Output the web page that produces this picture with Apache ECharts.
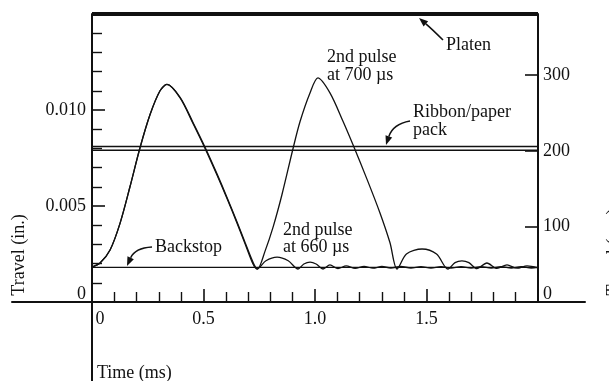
<!DOCTYPE html>
<html>
<head>
<meta charset="utf-8">
<script src="https://cdn.jsdelivr.net/npm/echarts@6/dist/echarts.min.js"></script>
<style>html,body{margin:0;padding:0;background:#fff}#c{width:609px;height:381px}</style>
</head>
<body>
<div id="c"></div>
<script>
// ---- data (time in ms, travel in inches) ----
const time660 = [0, 0.036, 0.081, 0.126, 0.170, 0.215, 0.260, 0.305, 0.336, 0.395, 0.453, 0.507, 0.561, 0.605, 0.650, 0.686, 0.722, 0.740, 0.780, 0.830, 0.880, 0.924, 0.950, 0.978, 1.005, 1.036, 1.067, 1.103, 1.140, 1.180, 1.220, 1.260, 1.300, 1.340, 1.385, 1.430, 1.475, 1.520, 1.565, 1.610, 1.655, 1.700, 1.745, 1.790, 1.835, 1.880, 1.925, 1.970, 2.0];
const travel660 = [0.00182, 0.00203, 0.00271, 0.00411, 0.00599, 0.00802, 0.00975, 0.01100, 0.01133, 0.01063, 0.00930, 0.00800, 0.00660, 0.00540, 0.00412, 0.00305, 0.00198, 0.00172, 0.00215, 0.00234, 0.00215, 0.00172, 0.00198, 0.00208, 0.00198, 0.00172, 0.00193, 0.00174, 0.00188, 0.00175, 0.00186, 0.00176, 0.00185, 0.00177, 0.00185, 0.00177, 0.00184, 0.00177, 0.00184, 0.00177, 0.00184, 0.00177, 0.00184, 0.00177, 0.00184, 0.00177, 0.00184, 0.00177, 0.00180];
const time700 = [0, 0.036, 0.081, 0.126, 0.170, 0.215, 0.260, 0.305, 0.336, 0.395, 0.453, 0.507, 0.561, 0.605, 0.650, 0.686, 0.724, 0.742, 0.776, 0.812, 0.852, 0.901, 0.933, 0.978, 1.013, 1.067, 1.126, 1.170, 1.233, 1.291, 1.336, 1.368, 1.410, 1.480, 1.545, 1.596, 1.628, 1.659, 1.690, 1.726, 1.771, 1.816, 1.861, 1.906, 1.951, 2.0];
const travel700 = [0.00182, 0.00203, 0.00271, 0.00411, 0.00599, 0.00802, 0.00975, 0.01100, 0.01133, 0.01066, 0.00935, 0.00806, 0.00666, 0.00546, 0.00418, 0.00311, 0.00202, 0.00172, 0.00265, 0.00390, 0.00560, 0.00797, 0.00940, 0.01090, 0.01167, 0.01089, 0.00940, 0.00820, 0.00640, 0.00465, 0.00310, 0.00172, 0.00250, 0.00276, 0.00250, 0.00172, 0.00205, 0.00214, 0.00205, 0.00174, 0.00203, 0.00175, 0.00193, 0.00176, 0.00188, 0.00178];
const platenLevel = 0.015;
const ribbonLevels = [0.0081, 0.0079];
const backstopLevel = 0.0018;
const xTicksMax = 2.0;
const leftAxisMax = 0.015;
const rightAxisMax = 381;          // micrometres equivalent of 0.015 in
const rightTickValues = [0, 100, 200, 300];

const FONT = 'Liberation Serif';
const INK = '#111';

function pairs(xs, ys) { return xs.map((x, i) => [x, ys[i]]); }
function level(v) { return [[0, v], [xTicksMax, v]]; }

function arrow(x0, y0, cx, cy, x1, y1) {
  const dx = x1 - cx, dy = y1 - cy, L = Math.hypot(dx, dy);
  const ux = dx / L, uy = dy / L, len = 9, w = 3.5;
  const bx = x1 - ux * len, by = y1 - uy * len;
  return [
    { type: 'bezierCurve', shape: { x1: x0, y1: y0, cpx1: cx, cpy1: cy, x2: bx, y2: by },
      style: { stroke: INK, lineWidth: 1.6, fill: null }, silent: true },
    { type: 'polygon', shape: { points: [[x1, y1], [bx - uy * w, by + ux * w], [bx + uy * w, by - ux * w]] },
      style: { fill: INK }, silent: true }
  ];
}
function label(x, y, text) {
  return { type: 'text', x: x, y: y, silent: true,
    style: { text: text, font: '18px "' + FONT + '"', fill: INK, textVerticalAlign: 'middle', lineHeight: 18 } };
}

const chart = echarts.init(document.getElementById('c'));
const lineBase = { type: 'line', symbol: 'none', clip: false, silent: true };
chart.setOption({
  animation: false,
  textStyle: { fontFamily: FONT },
  grid: [
    { left: 92, top: 14, width: 446, height: 288 },
    { left: 12, right: 24, top: 302, height: 0 },
    { left: 92, width: 0, top: 302, bottom: 0 }
  ],
  xAxis: [
    { type: 'value', gridIndex: 0, min: 0, max: xTicksMax, interval: 0.5,
      axisLine: { onZero: false, lineStyle: { color: INK, width: 2 } },
      axisTick: { inside: true, length: 13, lineStyle: { color: INK, width: 1.6 } },
      minorTick: { show: true, splitNumber: 5, length: 10, lineStyle: { color: INK, width: 1.4 } },
      splitLine: { show: false },
      axisLabel: { color: INK, fontSize: 18, fontFamily: FONT, margin: 8, showMaxLabel: false,
        formatter: v => v === 0 ? '{z|0}' : v.toFixed(1),
        rich: { z: { fontSize: 18, fontFamily: FONT, color: INK, padding: [0, 0, 0, 16] } } } },
    { type: 'value', gridIndex: 1, min: 0, max: 1, axisLine: { lineStyle: { color: INK, width: 2 } },
      axisTick: { show: false }, axisLabel: { show: false }, splitLine: { show: false } },
    { type: 'value', gridIndex: 2, min: 0, max: 1, show: false }
  ],
  yAxis: [
    { type: 'value', gridIndex: 0, min: 0, max: leftAxisMax, interval: 0.005, position: 'left',
      axisLine: { show: true, onZero: false, lineStyle: { color: INK, width: 2 } },
      axisTick: { inside: true, length: 13, lineStyle: { color: INK, width: 1.6 } },
      minorTick: { show: true, splitNumber: 5, length: 10, lineStyle: { color: INK, width: 1.4 } },
      splitLine: { show: false },
      axisLabel: { color: INK, fontSize: 18, fontFamily: FONT, margin: 6, showMaxLabel: false,
        formatter: v => v === 0 ? '{z|0}' : v.toFixed(3),
        rich: { z: { fontSize: 18, fontFamily: FONT, color: INK, padding: [0, 0, 16, 0] } } } },
    { type: 'value', gridIndex: 0, min: 0, max: rightAxisMax, position: 'right',
      axisLine: { show: true, onZero: false, lineStyle: { color: INK, width: 2 } },
      axisTick: { inside: true, length: 13, customValues: rightTickValues, lineStyle: { color: INK, width: 1.6 } },
      splitLine: { show: false },
      axisLabel: { color: INK, fontSize: 18, fontFamily: FONT, margin: 5, customValues: rightTickValues,
        formatter: v => v === 0 ? '{z|0}' : String(v),
        rich: { z: { fontSize: 18, fontFamily: FONT, color: INK, padding: [0, 0, 16, 0] } } } },
    { type: 'value', gridIndex: 1, min: 0, max: 1, show: false },
    { type: 'value', gridIndex: 2, min: 0, max: 1, axisLine: { show: true, lineStyle: { color: INK, width: 2 } },
      axisTick: { show: false }, axisLabel: { show: false }, splitLine: { show: false } }
  ],
  series: [
    Object.assign({}, lineBase, { name: 'Platen', data: level(platenLevel), lineStyle: { color: INK, width: 4 } }),
    Object.assign({}, lineBase, { name: 'Ribbon upper', data: level(ribbonLevels[0]), lineStyle: { color: INK, width: 1.6 } }),
    Object.assign({}, lineBase, { name: 'Ribbon lower', data: level(ribbonLevels[1]), lineStyle: { color: INK, width: 1.6 } }),
    Object.assign({}, lineBase, { name: 'Backstop', data: level(backstopLevel), lineStyle: { color: INK, width: 1.3 } }),
    Object.assign({}, lineBase, { name: '2nd pulse at 660 us', data: pairs(time660, travel660), smooth: 0.3, lineStyle: { color: INK, width: 1.3 } }),
    Object.assign({}, lineBase, { name: '2nd pulse at 700 us', data: pairs(time700, travel700), smooth: 0.3, lineStyle: { color: INK, width: 1.3 } })
  ],
  graphic: [].concat(
    label(446, 45, 'Platen'),
    arrow(443, 40, 432, 29, 419, 18),
    label(327, 57, '2nd pulse'),
    label(327, 75, 'at 700 \u00b5s'),
    label(413, 112, 'Ribbon/paper'),
    label(413, 130, 'pack'),
    arrow(410, 121, 393, 124, 386, 145),
    label(155, 247, 'Backstop'),
    arrow(152, 247, 135, 248, 127, 266),
    label(283, 230, '2nd pulse'),
    label(283, 247, 'at 660 \u00b5s'),
    [{ type: 'text', x: 97, y: 373, silent: true,
       style: { text: 'Time (ms)', font: '18px "' + FONT + '"', fill: INK, textVerticalAlign: 'middle' } },
     { type: 'text', x: 19, y: 255, rotation: Math.PI / 2, silent: true,
       style: { text: 'Travel (in.)', font: '18px "' + FONT + '"', fill: INK, textAlign: 'center', textVerticalAlign: 'middle' } },
     { type: 'text', x: 614, y: 252, rotation: Math.PI / 2, silent: true,
       style: { text: 'Travel (\u00b5m)', font: '18px "' + FONT + '"', fill: INK, textAlign: 'center', textVerticalAlign: 'middle' } }]
  )
});
</script>
</body>
</html>
